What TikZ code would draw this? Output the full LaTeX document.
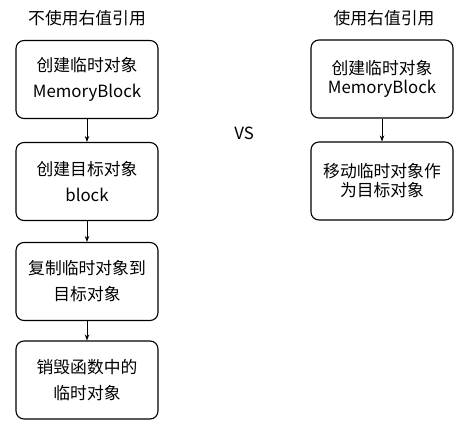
\documentclass[tikz,border=0pt]{standalone}
\usepackage{fontspec}
\newfontfamily\cjk{Noto Sans CJK SC}
\usetikzlibrary{arrows.meta}

\begin{document}
\begin{tikzpicture}[x=1pt, y=-1pt,
    box/.style={draw, line width=1.1pt, rounded corners=8pt, minimum width=142pt, minimum height=78pt, align=center, inner sep=2pt, font=\cjk\fontsize{16.8}{26}\selectfont},
    tightbox/.style={box, font=\cjk\fontsize{16.8}{19}\selectfont},
    txt/.style={font=\cjk\fontsize{16.8}{26}\selectfont},
    flow/.style={-{Stealth[length=6pt, width=4.5pt]}, line width=0.8pt}]
                \useasboundingbox (0,0) rectangle (463,428);
                \node[txt] (title1) at (87,18) {不使用右值引用};
                \node[txt] (title2) at (384,18) {使用右值引用};
                \node[txt] (vs) at (244,133) {VS};
                % without rvalue reference
                \node[box] (tmp1) at (87,79.5) {创建临时对象\\MemoryBlock};
                \node[box] (dst1) at (87,181.5) {创建目标对象\\block};
                \node[box] (copy1) at (87,281.5) {复制临时对象到\\目标对象};
                \node[box] (free1) at (87,380) {销毁函数中的\\临时对象};
                % with rvalue reference
                \node[tightbox] (tmp2) at (382,79) {创建临时对象\\MemoryBlock};
                \node[tightbox] (move2) at (382,181) {移动临时对象作\\为目标对象};
                \draw[flow] (tmp1) -- (dst1);
                \draw[flow] (dst1) -- (copy1);
                \draw[flow] (copy1) -- (free1);
                \draw[flow] (tmp2) -- (move2);
            \end{tikzpicture}
\end{document}
